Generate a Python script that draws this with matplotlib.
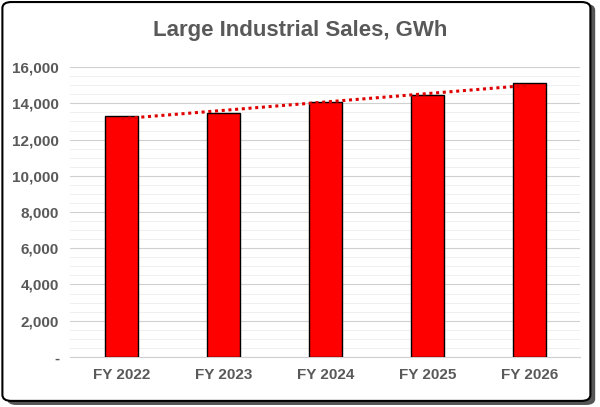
import numpy as np
import matplotlib.pyplot as plt
from matplotlib.patches import FancyBboxPatch

years = ['FY 2022', 'FY 2023', 'FY 2024', 'FY 2025', 'FY 2026']
sales = [13300, 13450, 14050, 14480, 15100]
yticks = [0, 2000, 4000, 6000, 8000, 10000, 12000, 14000, 16000]
ylabels = ['-'] + [f'{v:,}' for v in yticks[1:]]

plt.rcParams['font.family'] = ['Liberation Sans', 'DejaVu Sans']

fig = plt.figure(figsize=(6.0, 4.07), dpi=100)
# rounded frame with shadow
fig.patches.append(FancyBboxPatch((0.012, 0.005), 0.98, 0.985, boxstyle='round,pad=0,rounding_size=0.015',
                                  transform=fig.transFigure, facecolor='#555555', edgecolor='none', zorder=0))
fig.patches.append(FancyBboxPatch((0.004, 0.015), 0.98, 0.98, boxstyle='round,pad=0,rounding_size=0.015',
                                  transform=fig.transFigure, facecolor='white', edgecolor='black', lw=1.5, zorder=1))

ax = fig.add_axes([0.117, 0.123, 0.85, 0.712])
ax.set_zorder(5)
ax.set_facecolor('none')
x = np.arange(len(years))
ax.bar(x, sales, width=0.32, color='#ff0000', edgecolor='black', lw=1, zorder=3)

coef = np.polyfit(x, sales, 1)
ax.plot(x, np.polyval(coef, x), ls=(0, (1, 1.2)), color='#e00000', lw=2.2, zorder=4)

ax.set_ylim(0, 16000)
ax.set_xlim(-0.5, 4.5)
ax.set_yticks(yticks)
ax.set_yticklabels(ylabels)
ax.set_xticks(x)
ax.set_xticklabels(years)
ax.set_yticks(np.arange(0, 16001, 500), minor=True)
ax.grid(axis='y', which='major', color='#d0d0d0', lw=0.8, zorder=0)
ax.grid(axis='y', which='minor', color='#ececec', lw=0.6, zorder=0)
for s in ax.spines.values():
    s.set_visible(False)
ax.spines['bottom'].set_visible(True)
ax.spines['bottom'].set_color('#d0d0d0')
ax.tick_params(which='both', length=0, labelsize=11, colors='#595959', pad=8)
for t in ax.get_xticklabels() + ax.get_yticklabels():
    t.set_fontweight('bold')

t = fig.text(0.5, 0.925, 'Large Industrial Sales, GWh', ha='center', va='center',
             fontsize=16, fontweight='bold', color='#595959')
t.set_zorder(5)

fig.savefig('out.png', dpi=100)
